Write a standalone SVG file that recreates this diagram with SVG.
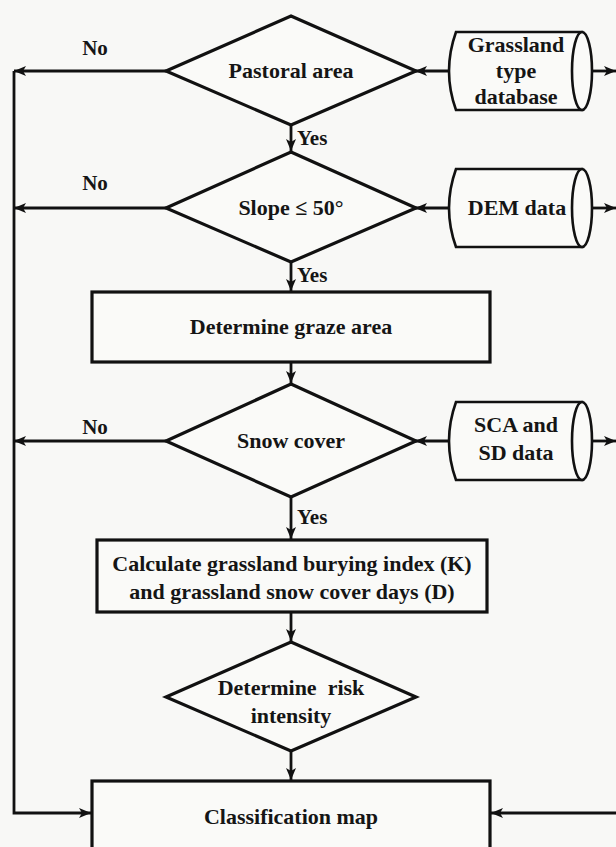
<svg xmlns="http://www.w3.org/2000/svg" width="616" height="847" viewBox="0 0 616 847">
<defs>
<marker id="ah" markerUnits="userSpaceOnUse" markerWidth="13" markerHeight="11" refX="12" refY="5" orient="auto">
<path d="M0,0 L12,5 L0,10 L3,5 z" fill="#111"/>
</marker>
<style>
.bg{fill:#f8f8f6}
.shape{fill:#fafaf8;stroke:#111;stroke-width:3.2}
.cyl{fill:#fafaf8;stroke:#111;stroke-width:2.6}
.ar{fill:none;stroke:#111;stroke-width:2.8;marker-end:url(#ah)}
text{font-family:"Liberation Serif","Times New Roman",serif;font-weight:bold;font-size:22px;fill:#151515;text-anchor:middle}
.lab{font-size:21px}
.yes{text-anchor:start;font-size:21px}
</style>
</defs>
<rect class="bg" x="0" y="0" width="616" height="847"/>

<g id="connectors">
<line class="ar" x1="291" y1="125" x2="291" y2="151"/>
<line class="ar" x1="291" y1="262" x2="291" y2="291"/>
<line class="ar" x1="291" y1="362" x2="291" y2="383"/>
<line class="ar" x1="291" y1="497" x2="291" y2="539"/>
<line class="ar" x1="291" y1="612" x2="291" y2="641"/>
<line class="ar" x1="291" y1="751" x2="291" y2="780"/>
<line class="ar" x1="166" y1="71" x2="14" y2="71"/>
<line class="ar" x1="166" y1="208" x2="14" y2="208"/>
<line class="ar" x1="166" y1="441" x2="14" y2="441"/>
<polyline class="ar" points="14,71 14,813 91,813"/>
<line class="ar" x1="616" y1="813" x2="491" y2="813"/>
<line class="ar" x1="450" y1="71" x2="415" y2="71"/>
<line class="ar" x1="450" y1="208" x2="415" y2="208"/>
<line class="ar" x1="450" y1="441" x2="415" y2="441"/>
<line class="ar" x1="592" y1="71" x2="616" y2="71"/>
<line class="ar" x1="592" y1="208" x2="616" y2="208"/>
<line class="ar" x1="592" y1="441" x2="616" y2="441"/>
<text class="lab" x="95" y="55">No</text>
<text class="lab" x="95" y="190">No</text>
<text class="lab" x="95" y="434">No</text>
<text class="yes" x="297" y="145">Yes</text>
<text class="yes" x="297" y="282">Yes</text>
<text class="yes" x="297" y="524">Yes</text>
</g>

<g id="pastoral">
<polygon class="shape" points="291,16 416,71 291,125 166,71"/>
<text x="291" y="78">Pastoral area</text>
</g>
<g id="grassland-db">
<path class="cyl" d="M456,32 L582,32 L582,110 L456,110 Q442,71 456,32 z"/>
<ellipse class="cyl" cx="582" cy="71" rx="10" ry="39"/>
<text x="516" y="52">Grassland</text>
<text x="516" y="78">type</text>
<text x="516" y="104">database</text>
</g>

<g id="slope">
<polygon class="shape" points="291,152 416,208 291,262 166,208"/>
<text x="291" y="215">Slope ≤ 50°</text>
</g>
<g id="dem">
<path class="cyl" d="M456,169 L582,169 L582,247 L456,247 Q442,208 456,169 z"/>
<ellipse class="cyl" cx="582" cy="208" rx="10" ry="39"/>
<text x="517" y="215">DEM data</text>
</g>

<g id="graze">
<rect class="shape" x="92" y="292" width="398" height="70"/>
<text x="291" y="334">Determine graze area</text>
</g>

<g id="snow">
<polygon class="shape" points="291,384 416,441 291,497 166,441"/>
<text x="291" y="448">Snow cover</text>
</g>
<g id="sca">
<path class="cyl" d="M456,402 L582,402 L582,480 L456,480 Q442,441 456,402 z"/>
<ellipse class="cyl" cx="582" cy="441" rx="10" ry="39"/>
<text x="516" y="432">SCA and</text>
<text x="516" y="460">SD data</text>
</g>

<g id="calc">
<rect class="shape" x="97" y="540" width="390" height="72"/>
<text x="292" y="571">Calculate grassland burying index (K)</text>
<text x="292" y="599">and grassland snow cover days (D)</text>
</g>

<g id="risk">
<polygon class="shape" points="291,642 416,697 291,751 166,697"/>
<text x="291" y="695" xml:space="preserve">Determine  risk</text>
<text x="291" y="723">intensity</text>
</g>

<g id="classification">
<rect class="shape" x="92" y="781" width="398" height="90"/>
<text x="291" y="824">Classification map</text>
</g>
</svg>
